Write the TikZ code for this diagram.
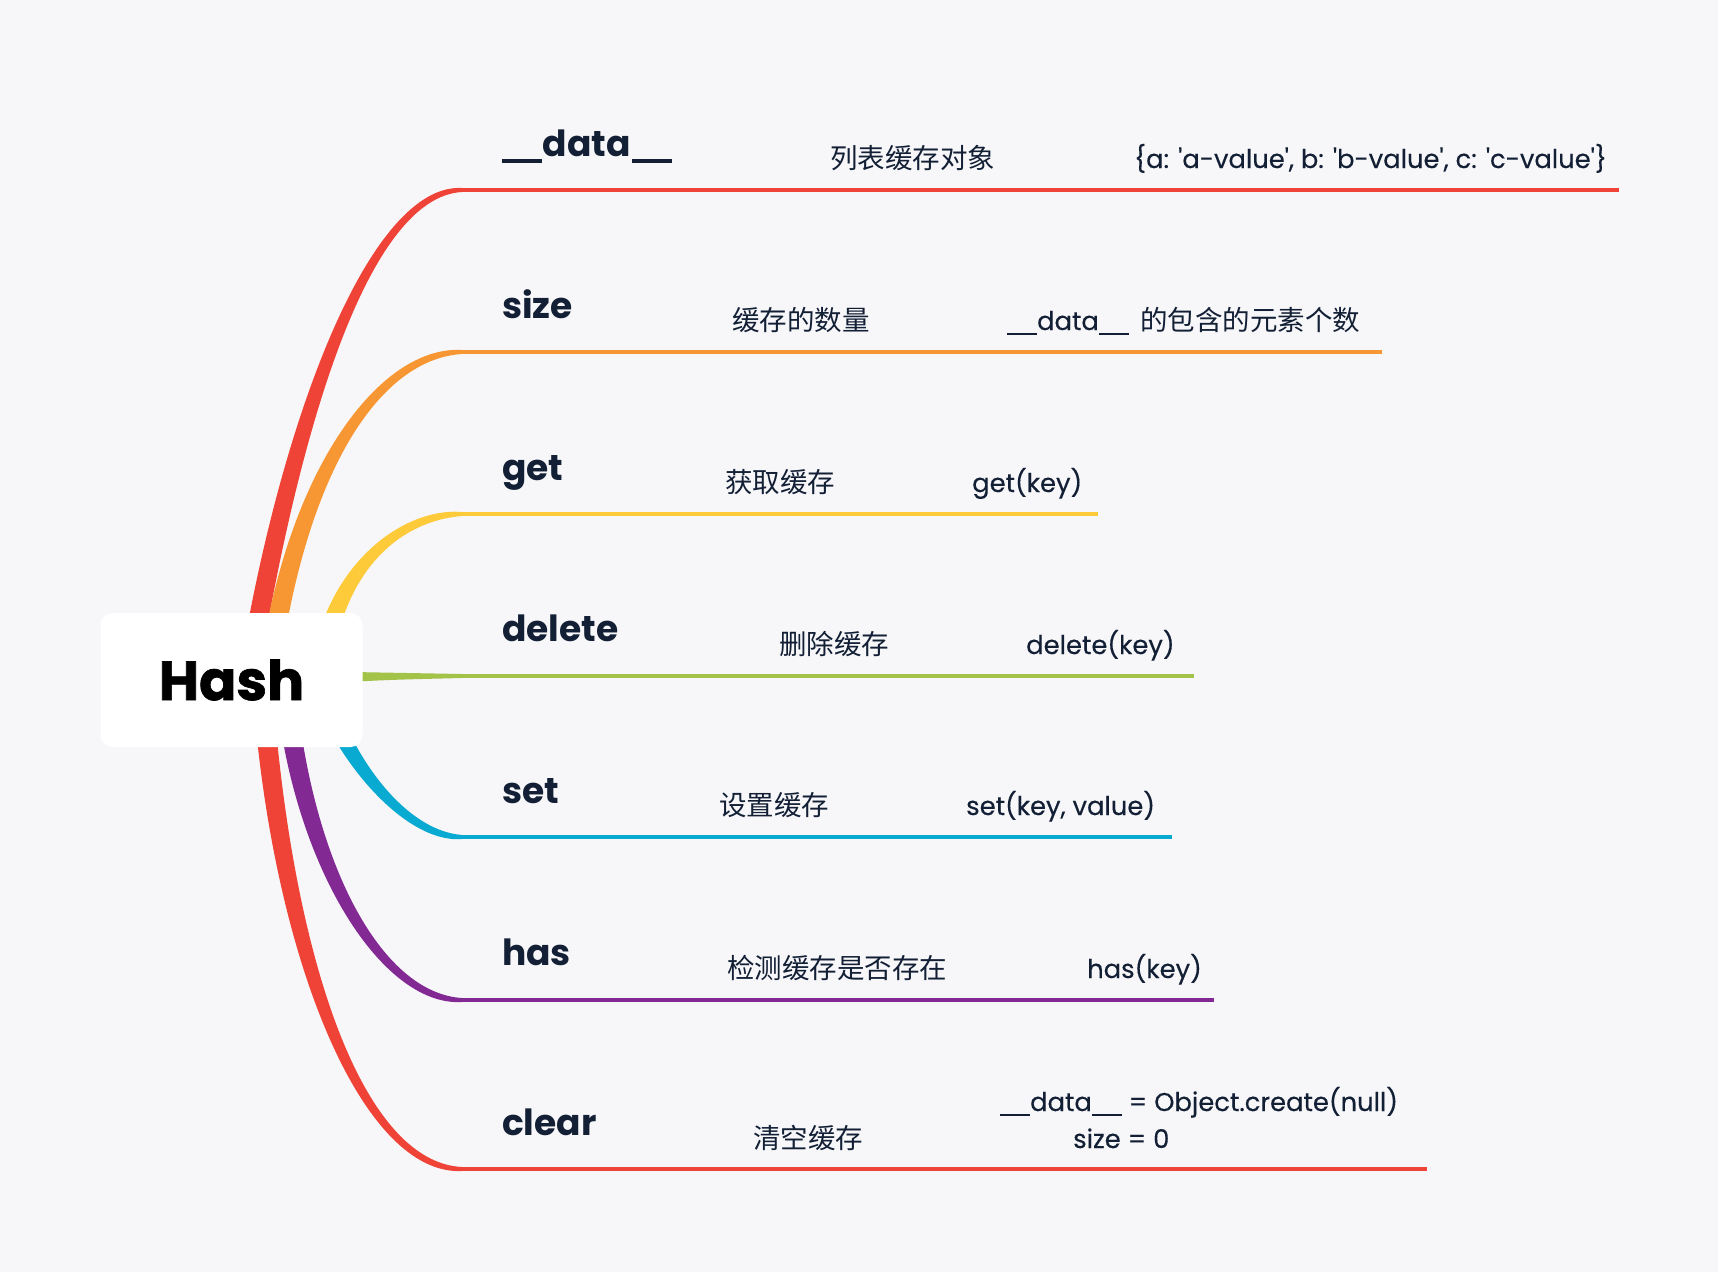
\documentclass[tikz,border=0pt]{standalone}
\usepackage{fontspec}
\setmainfont{Poppins}
\newfontfamily\cjk{Noto Sans CJK SC}
\newfontfamily\descfont{Poppins}[FakeBold=0.3]
\newfontfamily\heavyfont{Poppins}[BoldFeatures={FakeBold=1.2}]
\definecolor{bgc}{RGB}{247,247,249}
\definecolor{navy}{RGB}{18,31,53}
\definecolor{cred}{RGB}{240,67,56}
\definecolor{corange}{RGB}{247,151,51}
\definecolor{cyellow}{RGB}{253,202,58}
\definecolor{cgreen}{RGB}{162,195,72}
\definecolor{ccyan}{RGB}{8,170,209}
\definecolor{cpurple}{RGB}{131,41,148}
% double underscore drawn as one continuous bar
\newcommand\myusb{\rule[-0.2em]{1.1em}{0.11em}}
\newcommand\myusr{\rule[-0.2em]{1.16em}{0.08em}}
% tapered branch going up: color, x0, x1, y1, x2, yi
\newcommand\brup[6]{\fill[#1] ({#2-10},680) .. controls ({#3-10.5},#4) and (#5,{#6-7}) .. (462,{#6-2}) -- (462,{#6+2}) .. controls (#5,{#6+7}) and ({#3+10.5},#4) .. ({#2+10},680) -- cycle;}
% tapered branch going down
\newcommand\brdown[6]{\fill[#1] ({#2-10},680) .. controls ({#3-10.5},#4) and (#5,{#6+7}) .. (462,{#6+2}) -- (462,{#6-2}) .. controls (#5,{#6-7}) and ({#3+10.5},#4) .. ({#2+10},680) -- cycle;}
\begin{document}
\begin{tikzpicture}[x=1pt,y=-1pt,
  hashbox/.style={rectangle, rounded corners=12pt, fill=white, minimum width=262pt, minimum height=134pt, inner sep=0pt, text=black, font=\heavyfont\bfseries\fontsize{55}{58}\selectfont},
  lbl/.style={anchor=base west, inner sep=0pt, text=navy, font=\bfseries\fontsize{36}{40}\selectfont},
  desc/.style={anchor=base west, inner sep=0pt, text=navy, font=\descfont\fontsize{25.8}{30}\selectfont},
  cdesc/.style={anchor=base west, inner sep=0pt, text=navy, font=\cjk\fontsize{27.5}{32}\selectfont},
  bline/.style={line width=3.5pt}]
\fill[bgc] (0,0) rectangle (1718,1272);
\useasboundingbox (0,0) rectangle (1718,1272);
% branch start / end coordinates
\coordinate (s1) at (462,190);  \coordinate (e1) at (1619,190);
\coordinate (s2) at (462,352);  \coordinate (e2) at (1382,352);
\coordinate (s3) at (462,514);  \coordinate (e3) at (1098,514);
\coordinate (s4) at (462,676);  \coordinate (e4) at (1194,676);
\coordinate (s5) at (462,837);  \coordinate (e5) at (1172,837);
\coordinate (s6) at (462,1000); \coordinate (e6) at (1214,1000);
\coordinate (s7) at (462,1169); \coordinate (e7) at (1427,1169);
% tapered connectors
\brup{cred}{248}{290}{420}{370}{190}
\brup{corange}{268}{295}{470}{380}{352}
\brup{cyellow}{320}{330}{570}{400}{514}
\fill[cgreen] (300,671) .. controls (380,672.5) .. (462,674) -- (462,678) .. controls (380,680) .. (300,685) -- cycle;
\brdown{ccyan}{320}{335}{745}{400}{837}
\brdown{cpurple}{285}{300}{860}{380}{1000}
\brdown{cred}{262}{280}{950}{360}{1169}
% horizontal lines
\draw[bline, cred] (s1) -- (e1);
\draw[bline, corange] (s2) -- (e2);
\draw[bline, cyellow] (s3) -- (e3);
\draw[bline, cgreen] (s4) -- (e4);
\draw[bline, ccyan] (s5) -- (e5);
\draw[bline, cpurple] (s6) -- (e6);
\draw[bline, cred] (s7) -- (e7);
% central topic
\node[hashbox] (hash) at (231.5,680) {Hash};
% labels
\node[lbl] (l1) at (502,156) {\myusb\kern0.03em data\kern0.03em\myusb};
\node[lbl] (l2) at (502,318) {size};
\node[lbl] (l3) at (502,480) {get};
\node[lbl] (l4) at (502,641) {delete};
\node[lbl] (l5) at (502,803) {set};
\node[lbl] (l6) at (502,965) {has};
\node[lbl] (l7) at (502,1135) {clear};
% descriptions
\node[cdesc] (c1) at (830,168) {列表缓存对象};
\node[desc] (d1) at (1134,168) {\{a: \textquotesingle a-value\textquotesingle, b: \textquotesingle b-value\textquotesingle, c: \textquotesingle c-value\textquotesingle\}};
\node[cdesc] (c2) at (732,330) {缓存的数量};
\node[desc] (d2) at (1007,330) {\myusr data\myusr\kern0.45em{\cjk\fontsize{27.5}{32}\selectfont 的包含的元素个数}};
\node[cdesc] (c3) at (725,492) {获取缓存};
\node[desc] (d3) at (972,492) {get(key)};
\node[cdesc] (c4) at (779,654) {删除缓存};
\node[desc] (d4) at (1026,654) {delete(key)};
\node[cdesc] (c5) at (719,815) {设置缓存};
\node[desc] (d5) at (966,815) {set(key, value)};
\node[cdesc] (c6) at (727,978) {检测缓存是否存在};
\node[desc] (d6) at (1087,978) {has(key)};
\node[cdesc] (c7) at (753,1148) {清空缓存};
\node[desc] (d7) at (1000,1111) {\myusr data\myusr\ = Object.create(null)};
\node[desc] (d8) at (1073,1148) {size = 0};
\end{tikzpicture}
\end{document}
